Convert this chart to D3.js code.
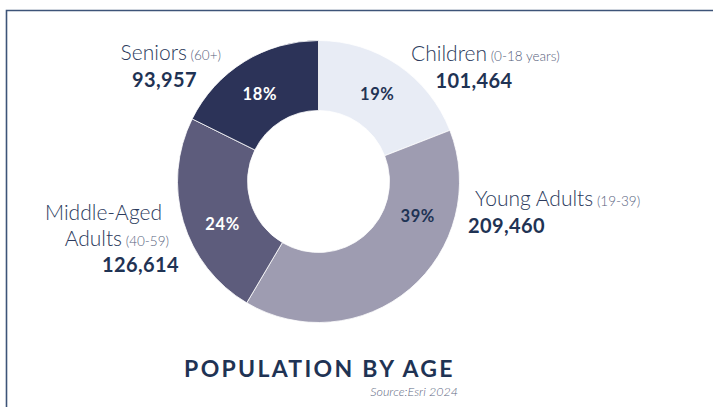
<!DOCTYPE html>
<html>
<head>
<meta charset="utf-8">
<script src="https://cdn.jsdelivr.net/npm/d3@7"></script>
<style>
  body { margin: 0; background: #fff; }
  svg { display: block; font-family: Lato, "Open Sans", sans-serif; }
</style>
</head>
<body>
<div id="chart"></div>
<script>
// data
var groups = ["Children", "Young Adults", "Middle-Aged Adults", "Seniors"];
var ranges = ["(0-18 years)", "(19-39)", "(40-59)", "(60+)"];
var population = [101464, 209460, 126614, 93957];
var percents = ["19%", "39%", "24%", "18%"];
var colors = ["#e8ecf5", "#9e9cb1", "#5d5c7c", "#2c3358"];
var pctColors = ["#1f3354", "#1f3354", "#ffffff", "#ffffff"];
// label angle (degrees, clockwise from top) for the % labels, hand placed like the original
var pctLabelAngle = [34, 109, 246, 326];

var width = 713, height = 407;
var cx = 318.5, cy = 181.5, rOuter = 141, rInner = 71;

var svg = d3.select("#chart").append("svg")
  .attr("width", width)
  .attr("height", height);

// frame lines (top and left)
svg.append("path")
  .attr("d", "M6.5," + height + "V10.5H" + width)
  .attr("fill", "none")
  .attr("stroke", "#3d5478")
  .attr("stroke-width", 1.6);

var pie = d3.pie().sort(null).value(function(d) { return d; });
var arcs = pie(population);
var arc = d3.arc().innerRadius(rInner).outerRadius(rOuter);

var g = svg.append("g").attr("transform", "translate(" + cx + "," + cy + ")");

g.selectAll("path.slice")
  .data(arcs)
  .enter().append("path")
  .attr("class", "slice")
  .attr("d", arc)
  .attr("fill", function(d, i) { return colors[i]; })
  .attr("stroke", "#ffffff")
  .attr("stroke-width", 0.8);

// percent labels
var rLabel = 105;
g.selectAll("text.pct")
  .data(arcs)
  .enter().append("text")
  .attr("class", "pct")
  .attr("x", function(d, i) { return rLabel * Math.sin(pctLabelAngle[i] * Math.PI / 180); })
  .attr("y", function(d, i) { return -rLabel * Math.cos(pctLabelAngle[i] * Math.PI / 180); })
  .attr("dy", "0.36em")
  .attr("text-anchor", "middle")
  .attr("font-size", 16.5)
  .attr("font-weight", 700)
  .attr("letter-spacing", 0.6)
  .attr("fill", function(d, i) { return pctColors[i]; })
  .text(function(d, i) { return percents[i]; });

var fmt = d3.format(",");
var nameColor = "#2b3a5c", rangeColor = "#56617c", numColor = "#1f3354";

function nameLine(x, y, anchor, name, range) {
  var t = svg.append("text")
    .attr("x", x).attr("y", y)
    .attr("text-anchor", anchor)
    .attr("font-weight", 300)
    .attr("font-size", 21)
    .attr("fill", nameColor);
  t.append("tspan").text(name);
  if (range) {
    t.append("tspan")
      .attr("font-size", 13.5)
      .attr("fill", rangeColor)
      .text(" " + range);
  }
  return t;
}
function numLine(x, y, anchor, v) {
  svg.append("text")
    .attr("x", x).attr("y", y)
    .attr("text-anchor", anchor)
    .attr("font-weight", 700)
    .attr("font-size", 20)
    .attr("letter-spacing", 0.4)
    .attr("fill", numColor)
    .text(fmt(v));
}

// Children
nameLine(411, 61, "start", groups[0], ranges[0]);
numLine(474, 88, "middle", population[0]);
// Young Adults
nameLine(475, 206, "start", groups[1], ranges[1]);
numLine(468, 233, "start", population[1]);
// Middle-Aged Adults (two lines)
nameLine(162, 220, "end", "Middle-Aged", null);
nameLine(169, 246, "end", "Adults", ranges[2]);
numLine(179, 272, "end", population[2]);
// Seniors
nameLine(221, 60, "end", groups[3], ranges[3]);
numLine(164.5, 87, "middle", population[3]);

// title and source
svg.append("text")
  .attr("x", 319.5).attr("y", 377)
  .attr("text-anchor", "middle")
  .attr("font-size", 23)
  .attr("font-weight", 700)
  .attr("letter-spacing", 2.3)
  .attr("fill", numColor)
  .text("POPULATION BY AGE");

svg.append("text")
  .attr("x", 458).attr("y", 396)
  .attr("text-anchor", "end")
  .attr("font-size", 12.5)
  .attr("font-style", "italic")
  .attr("font-weight", 300)
  .attr("fill", "#5f6a84")
  .text("Source:Esri 2024");
</script>
</body>
</html>
